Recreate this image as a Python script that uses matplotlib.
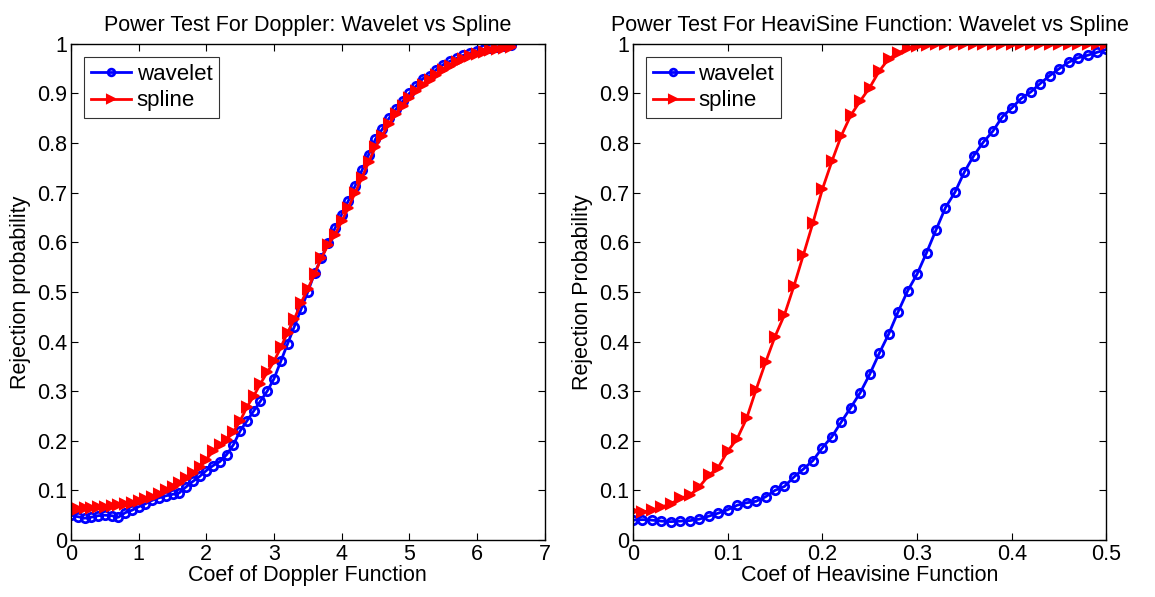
import matplotlib.pyplot as plt
import numpy as np

plt.rcParams['font.family'] = ['Liberation Sans', 'DejaVu Sans']

# Doppler panel: coef 0 .. 6.5 step 0.1
dop_x = np.round(np.arange(0, 6.51, 0.1), 2)
dop_wavelet = [0.050, 0.047, 0.044, 0.046, 0.049, 0.050, 0.049, 0.046, 0.055, 0.060,
               0.067, 0.073, 0.080, 0.085, 0.089, 0.092, 0.095, 0.107, 0.118, 0.128,
               0.140, 0.150, 0.158, 0.172, 0.192, 0.220, 0.240, 0.260, 0.280, 0.300,
               0.325, 0.360, 0.395, 0.430, 0.465, 0.500, 0.538, 0.568, 0.598, 0.628,
               0.656, 0.684, 0.714, 0.745, 0.777, 0.808, 0.828, 0.850, 0.868, 0.884,
               0.900, 0.915, 0.930, 0.935, 0.948, 0.958, 0.965, 0.971, 0.977, 0.982,
               0.986, 0.989, 0.992, 0.994, 0.995, 0.997]
dop_spline = [0.063, 0.063, 0.064, 0.065, 0.066, 0.067, 0.068, 0.070, 0.073, 0.075,
              0.079, 0.083, 0.087, 0.093, 0.100, 0.107, 0.114, 0.124, 0.135, 0.147,
              0.162, 0.180, 0.192, 0.202, 0.218, 0.240, 0.268, 0.290, 0.315, 0.338,
              0.360, 0.388, 0.418, 0.445, 0.478, 0.506, 0.536, 0.568, 0.595, 0.615,
              0.642, 0.670, 0.700, 0.730, 0.762, 0.792, 0.815, 0.838, 0.858, 0.875,
              0.890, 0.905, 0.918, 0.928, 0.938, 0.948, 0.956, 0.963, 0.970, 0.976,
              0.980, 0.984, 0.987, 0.990, 0.992, 0.994]

# HeaviSine panel: coef 0 .. 0.5 step 0.01
hs_x = np.round(np.arange(0, 0.501, 0.01), 3)
hs_wavelet = [0.040, 0.041, 0.040, 0.038, 0.037, 0.038, 0.039, 0.042, 0.048, 0.054,
              0.061, 0.070, 0.075, 0.078, 0.087, 0.100, 0.108, 0.127, 0.143, 0.160,
              0.186, 0.208, 0.238, 0.267, 0.297, 0.334, 0.376, 0.415, 0.460, 0.502,
              0.536, 0.579, 0.625, 0.670, 0.701, 0.742, 0.775, 0.802, 0.824, 0.853,
              0.871, 0.890, 0.903, 0.920, 0.936, 0.950, 0.963, 0.972, 0.977, 0.983,
              0.989]
hs_spline = [0.058, 0.056, 0.060, 0.066, 0.073, 0.084, 0.090, 0.107, 0.130, 0.146,
             0.179, 0.204, 0.245, 0.303, 0.358, 0.410, 0.454, 0.512, 0.575, 0.639,
             0.707, 0.763, 0.815, 0.856, 0.885, 0.912, 0.945, 0.970, 0.981, 0.992,
             0.995, 0.998, 0.999, 0.999, 0.999, 0.999, 0.999, 1.0, 1.0, 1.0,
             1.0, 1.0, 1.0, 1.0, 1.0, 1.0, 1.0, 1.0, 1.0, 1.0,
             1.0]

yticks = [0, 0.1, 0.2, 0.3, 0.4, 0.5, 0.6, 0.7, 0.8, 0.9, 1]
ytick_labels = ['0', '0.1', '0.2', '0.3', '0.4', '0.5', '0.6', '0.7', '0.8', '0.9', '1']

FS = 15.5

fig = plt.figure(figsize=(11.55, 5.97), dpi=100)
ax1 = fig.add_axes([0.0615, 0.0955, 0.41, 0.831])
ax2 = fig.add_axes([0.548, 0.0955, 0.41, 0.831])


def style(ax):
    ax.tick_params(direction='in', top=True, right=True, labelsize=FS, length=5, width=0.8, pad=3)
    for s in ax.spines.values():
        s.set_linewidth(1.0)
    ax.set_yticks(yticks)
    ax.set_yticklabels(ytick_labels)
    ax.set_ylim(0, 1)


def add_legend(ax):
    leg = ax.legend(loc='upper left', fontsize=FS + 0.5, frameon=True, fancybox=False,
                    edgecolor='black', handlelength=1.8, borderpad=0.3, labelspacing=0.25,
                    handletextpad=0.25, borderaxespad=0.6, markerscale=0.8)
    leg.get_frame().set_linewidth(0.8)


ax1.plot(dop_x, dop_wavelet, '-o', color='#0000ff', lw=2, ms=6, mfc='none', mew=2, label='wavelet')
ax1.plot(dop_x, dop_spline, '->', color='#ff0000', lw=2, ms=7, mew=1.5, label='spline')
style(ax1)
ax1.set_xlim(0, 7)
ax1.set_xticks(range(0, 8))
ax1.set_title('Power Test For Doppler: Wavelet vs Spline', fontsize=FS, pad=9)
ax1.set_xlabel('Coef of Doppler Function', fontsize=FS, labelpad=0)
ax1.set_ylabel('Rejection probability', fontsize=FS, labelpad=4)
add_legend(ax1)

ax2.plot(hs_x, hs_wavelet, '-o', color='#0000ff', lw=2, ms=6, mfc='none', mew=2, label='wavelet')
ax2.plot(hs_x, hs_spline, '->', color='#ff0000', lw=2, ms=7, mew=1.5, label='spline')
style(ax2)
ax2.set_xlim(0, 0.5)
ax2.set_xticks([0, 0.1, 0.2, 0.3, 0.4, 0.5])
ax2.set_xticklabels(['0', '0.1', '0.2', '0.3', '0.4', '0.5'])
ax2.set_title('Power Test For HeaviSine Function: Wavelet vs Spline', fontsize=FS, pad=9)
ax2.set_xlabel('Coef of Heavisine Function', fontsize=FS, labelpad=0)
ax2.set_ylabel('Rejection Probability', fontsize=FS, labelpad=4)
add_legend(ax2)

plt.savefig('out.png', dpi=100)
